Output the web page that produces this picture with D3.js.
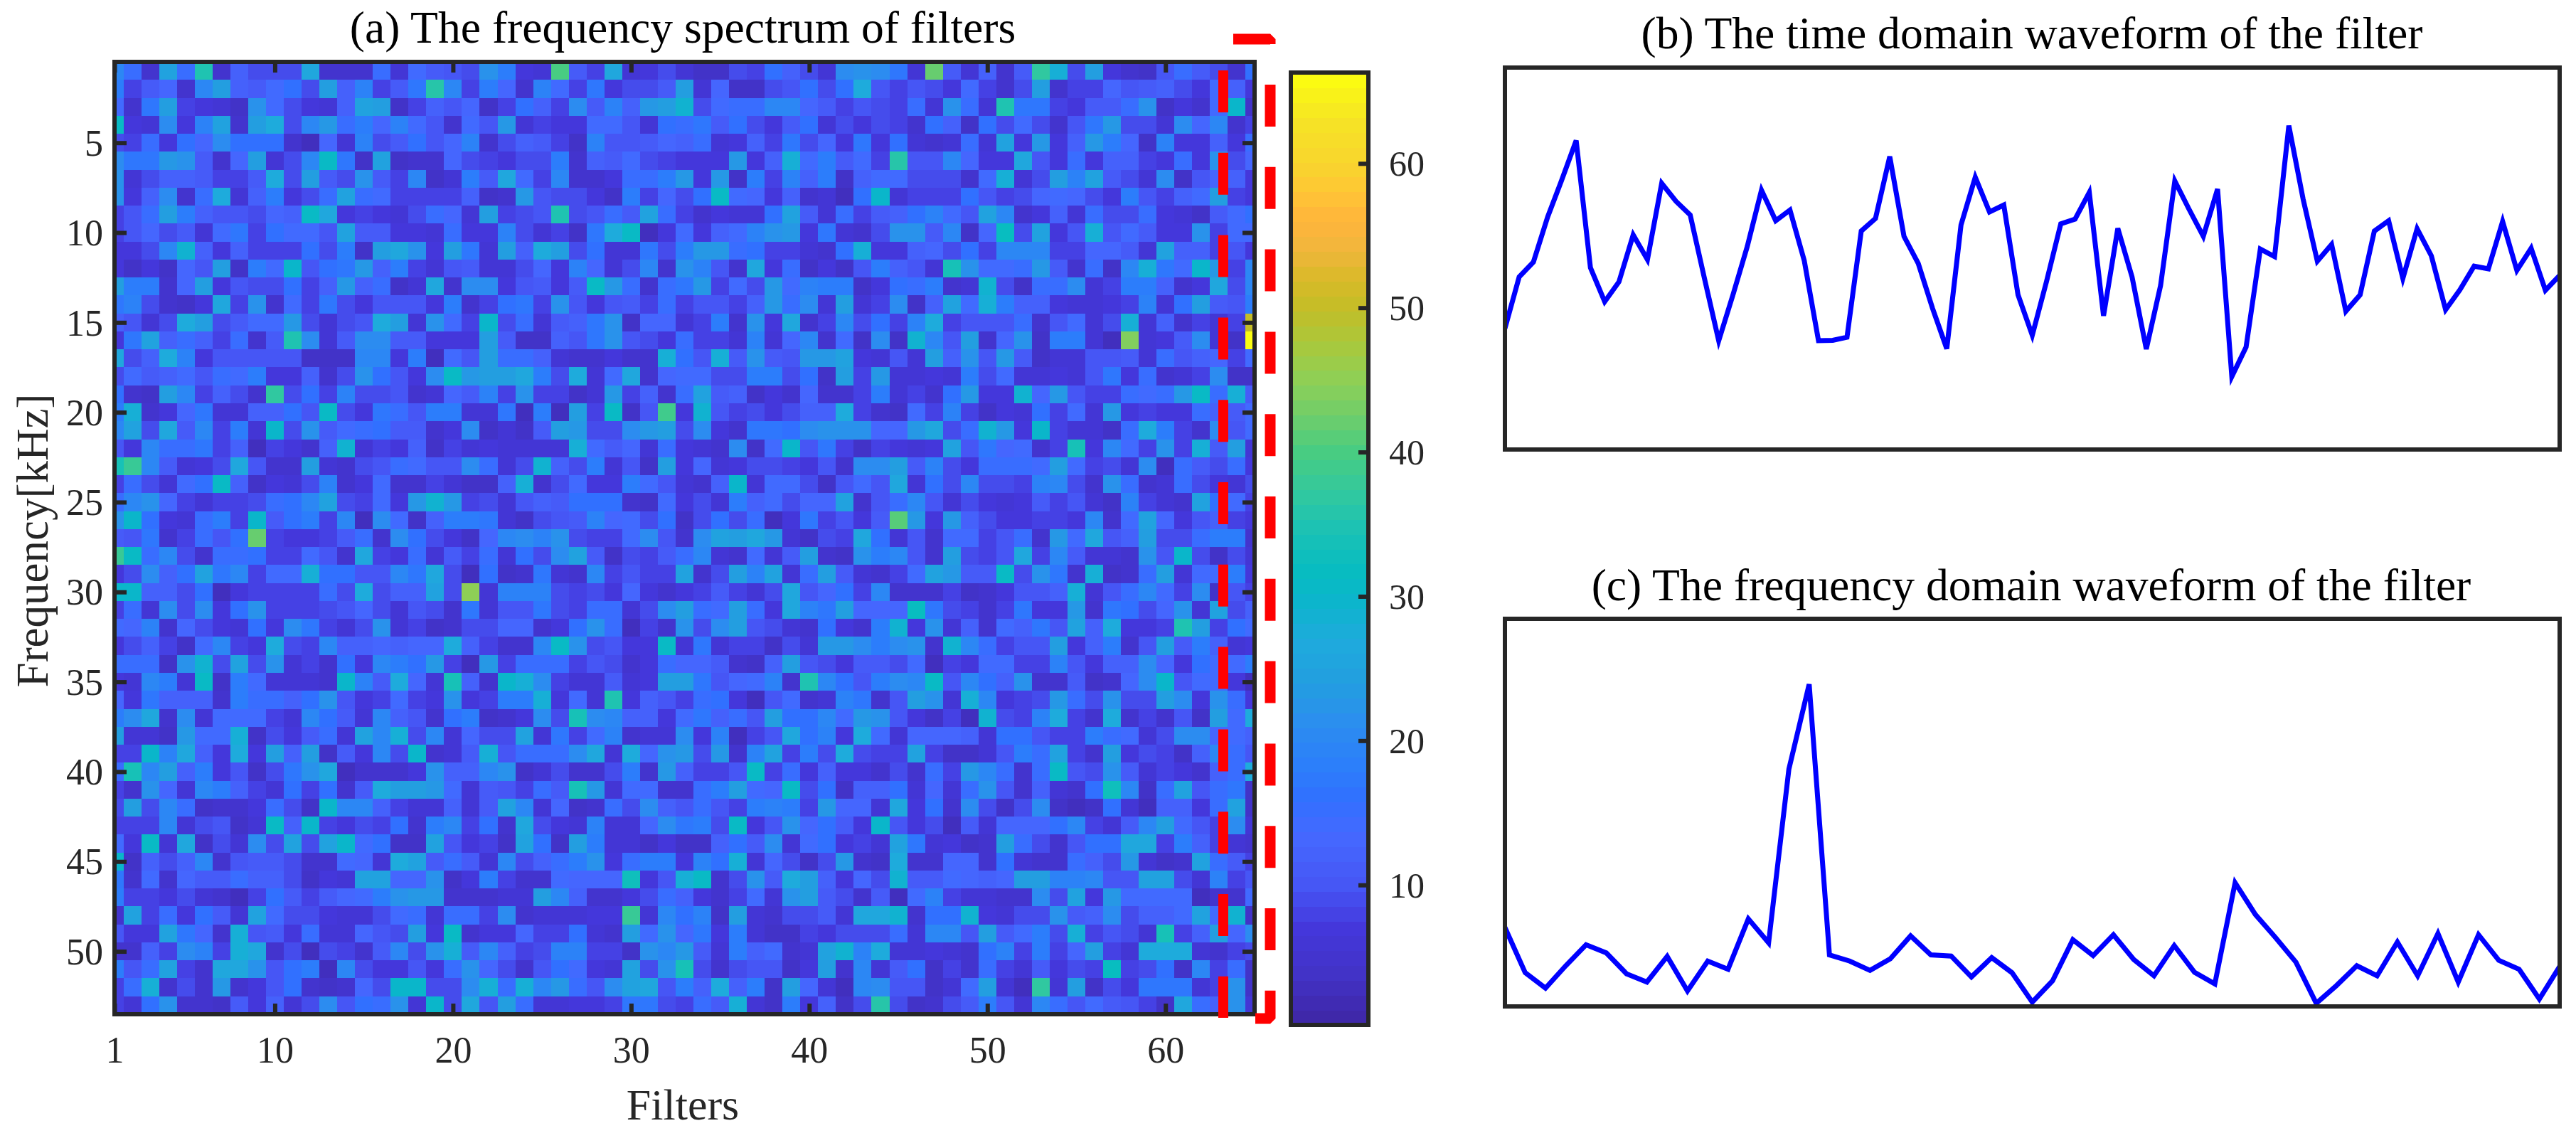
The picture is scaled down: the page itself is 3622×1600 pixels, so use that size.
<!DOCTYPE html>
<html><head><meta charset="utf-8">
<script src="https://cdn.jsdelivr.net/npm/d3@7"></script>
<style>html,body{margin:0;padding:0;background:#fff}svg{display:block}</style></head>
<body><svg id="c" width="3622" height="1600"></svg>
<script>
const W=3622,H=1600;
const titleA="(a) The frequency spectrum of filters";
const titleB="(b) The time domain waveform of the filter";
const titleC="(c) The frequency domain waveform of the filter";
const xLabel="Filters", yLabel="Frequency[kHz]";
const xTicks=[1,10,20,30,40,50,60];
const yTicks=[5,10,15,20,25,30,35,40,45,50];
const barTicks=[10,20,30,40,50,60];
const colorStops=[[0.3,"#3e26a4"],[4,"#4233c8"],[7,"#4437db"],[10,"#4656f5"],[13.5,"#4569ff"],[16,"#3170ff"],[18,"#2c7dfb"],[21,"#2c8cf0"],[24,"#239ee0"],[27,"#1eabdc"],[30,"#0ab6ca"],[32,"#08bdc0"],[34.7,"#1cc2b4"],[37,"#30c8a0"],[40,"#48cc82"],[43,"#76ce66"],[45,"#8ecf56"],[47.5,"#a9c83c"],[50,"#c4bd27"],[52,"#d9ba28"],[54,"#f0b63c"],[56,"#ffb43c"],[58,"#ffc535"],[60,"#f8d52e"],[63,"#f6e425"],[66.3,"#fcff0e"]];
const spectrum=[
[20,15,5,25,15,35,5,12,9,9,9,26,5,5,5,15,6,14,11,10,9,22,18,7,6,40,11,8,26,6,7,9,6,4,4,9,8,16,12,9,6,21,22,21,17,6,42,11,6,12,5,11,37,28,9,24,7,5,4,10,15,11,9,5,16],
[18,8,11,13,5,20,24,12,11,14,16,9,24,12,19,8,11,17,36,20,8,18,13,5,19,14,8,17,7,9,9,11,24,6,13,4,4,9,10,16,9,16,27,10,8,10,9,7,14,8,5,9,24,5,8,8,13,10,11,12,9,7,14,12,7],
[14,5,17,24,8,7,6,4,22,14,9,7,6,12,25,24,4,8,12,10,13,4,8,16,12,8,21,11,19,12,23,24,29,9,14,15,15,20,20,13,11,8,10,9,8,15,6,22,15,6,35,17,17,8,7,11,11,15,22,4,7,5,14,30,4],
[31,7,6,21,7,19,25,5,24,27,9,20,23,15,18,13,19,14,10,5,14,10,23,6,8,7,7,14,14,10,6,16,15,17,11,16,9,7,11,16,6,9,7,9,8,5,16,12,4,16,9,14,9,5,10,17,23,9,9,6,21,13,20,5,8],
[9,8,15,7,16,13,21,16,16,16,5,3,13,6,19,9,11,16,10,13,19,5,9,12,11,8,4,19,10,10,11,13,12,15,6,7,12,8,17,9,13,7,17,7,16,6,5,6,15,6,25,7,23,7,12,23,18,13,4,19,7,7,12,7,15],
[21,17,17,23,22,11,5,13,24,6,9,20,31,17,4,25,4,5,5,13,9,8,7,9,9,18,5,12,11,14,9,8,7,7,7,23,7,12,28,14,18,11,14,8,36,10,10,20,13,7,7,26,10,7,15,7,12,12,8,7,15,7,22,9,13],
[22,6,9,12,12,11,8,8,11,27,9,24,11,9,22,11,8,20,4,6,18,11,26,14,8,20,5,5,7,15,15,18,23,7,23,4,18,8,19,12,18,4,12,14,14,9,9,9,5,14,28,6,9,24,19,25,11,9,6,21,4,10,13,12,7],
[22,7,12,21,5,15,27,6,12,18,7,9,15,25,15,14,8,8,8,8,12,4,5,23,10,9,9,7,4,18,8,13,9,16,31,14,13,7,12,5,6,3,16,30,6,8,8,8,16,10,8,9,13,14,13,9,7,18,10,8,12,14,24,8,7],
[8,10,15,24,18,12,10,10,9,13,12,31,26,7,8,7,6,9,15,13,6,24,8,9,10,35,9,10,15,11,25,15,8,5,7,6,6,16,25,11,6,15,8,11,12,16,19,14,10,25,20,5,7,12,6,15,9,9,15,7,6,4,11,14,16],
[8,10,13,9,11,6,14,17,8,16,14,14,10,25,11,11,7,7,6,15,7,7,19,9,6,8,4,17,27,31,3,7,14,7,12,14,19,22,23,7,17,6,5,9,22,22,11,20,4,13,32,9,25,7,10,28,10,14,11,7,7,22,8,14,14],
[7,7,9,20,29,12,7,12,8,8,8,16,9,18,4,24,26,22,7,24,17,6,24,12,27,24,9,16,6,6,17,9,18,23,23,15,16,8,8,6,5,16,28,7,7,12,13,9,16,8,20,20,20,8,8,13,13,11,6,25,12,12,8,10,7],
[7,4,7,4,13,10,24,4,18,14,30,10,16,17,23,12,18,8,6,10,11,6,6,9,13,7,19,13,6,9,20,5,22,19,10,5,26,7,15,4,7,4,10,18,12,10,6,34,22,14,14,15,23,11,5,15,4,20,28,17,14,30,23,8,20],
[24,18,18,5,13,24,7,10,9,9,16,8,12,23,12,15,4,6,26,5,21,21,7,10,11,7,11,31,23,15,5,15,17,23,8,14,9,23,14,19,18,18,4,7,16,15,18,5,6,29,9,4,15,15,21,6,8,18,18,12,5,7,26,9,20],
[17,19,9,5,4,7,26,8,22,5,14,8,17,9,7,10,10,10,7,18,5,8,16,17,8,22,10,7,10,11,8,15,8,10,10,8,12,23,15,21,6,24,6,8,21,4,12,25,14,28,18,12,12,7,6,6,7,8,19,6,16,24,11,10,18],
[12,10,6,9,27,24,9,11,14,14,23,9,6,9,10,27,24,6,22,14,8,30,9,15,6,11,12,17,22,4,13,13,6,8,18,5,22,7,26,5,8,20,9,16,8,19,27,8,10,10,10,15,5,10,14,6,9,28,6,12,5,8,6,8,50],
[7,17,25,12,15,12,8,15,5,11,35,21,6,11,21,21,11,11,7,7,7,24,11,4,4,12,10,17,22,10,9,7,15,8,8,6,19,6,13,20,5,14,4,21,4,29,20,10,24,5,13,22,4,18,18,6,3,44,6,7,11,21,6,4,66],
[26,9,12,27,19,7,10,10,10,10,10,4,4,4,20,20,7,18,3,14,10,24,15,15,12,6,5,5,7,5,5,28,16,10,28,11,22,11,10,23,23,25,7,6,10,6,24,12,22,10,23,11,4,6,6,10,10,11,6,15,10,12,13,8,14],
[9,14,11,12,14,10,15,14,18,7,7,12,5,9,22,16,10,7,21,31,23,24,24,26,18,9,27,6,14,26,5,13,14,14,9,9,18,18,9,16,4,24,8,23,6,6,7,6,18,9,14,6,6,7,6,10,17,7,15,5,6,8,21,4,4],
[16,5,4,24,20,8,12,9,5,37,9,16,8,19,9,9,10,5,6,13,11,19,8,22,8,8,4,6,23,8,12,5,15,25,11,12,4,7,5,13,5,5,8,18,6,8,5,16,23,7,7,29,13,23,10,8,8,15,14,15,23,31,15,28,11],
[18,28,5,7,13,17,6,6,12,12,16,10,31,9,7,17,15,10,18,18,6,6,17,3,18,3,24,8,31,4,10,39,7,29,10,8,9,7,9,12,12,27,8,5,4,14,8,19,8,4,7,6,16,8,14,6,23,7,8,7,7,15,12,11,14],
[20,25,9,26,11,20,8,18,6,30,9,22,11,14,15,16,11,11,5,7,21,4,6,4,11,24,23,9,9,21,23,24,9,21,7,5,17,17,16,21,22,22,22,13,13,23,26,9,15,29,23,7,30,8,6,6,4,15,27,18,8,5,21,10,14],
[10,7,20,15,15,17,8,12,3,8,7,5,12,29,6,8,7,12,4,8,6,7,6,6,6,6,28,14,11,13,6,15,7,6,5,21,4,14,30,10,17,8,4,8,7,6,7,25,10,17,13,14,5,8,34,7,20,14,8,22,8,28,11,24,6],
[34,38,20,11,6,7,9,26,10,5,5,24,6,5,9,10,15,14,10,10,21,15,6,9,29,12,9,18,6,10,4,24,7,13,6,7,9,9,8,7,10,5,21,21,24,11,19,9,7,15,15,15,14,24,14,8,9,6,21,3,15,11,9,15,7],
[8,15,9,6,14,16,31,12,4,7,6,9,19,5,7,14,5,5,8,6,4,4,12,28,5,9,14,7,7,18,14,10,6,5,12,30,6,14,14,9,4,10,14,10,26,6,16,9,20,9,9,8,19,20,9,5,22,15,5,6,15,9,7,6,9],
[15,20,22,13,8,6,8,8,9,15,16,20,25,9,8,14,7,23,29,23,8,9,6,10,12,11,16,16,16,5,4,14,7,9,6,18,12,14,9,13,13,25,5,10,15,20,10,6,9,7,6,7,11,8,10,6,4,19,8,6,5,25,16,14,8],
[22,30,16,7,6,15,18,8,30,11,16,18,8,20,3,21,14,4,12,18,18,17,6,4,9,10,11,19,13,14,9,16,4,9,16,9,15,3,7,17,8,10,7,11,41,23,7,23,12,9,7,7,8,8,7,20,5,14,25,13,7,10,12,8,7],
[11,10,17,5,8,15,10,16,42,8,7,7,8,11,15,5,21,16,9,7,4,13,20,21,19,22,9,8,8,14,21,10,5,21,25,24,26,23,6,4,9,8,26,16,6,10,5,14,14,8,10,15,5,23,14,26,10,12,24,9,9,15,18,18,5],
[38,31,15,20,9,5,15,15,16,8,8,14,10,5,26,8,7,15,6,11,8,15,6,16,9,21,25,11,4,9,8,11,15,20,6,5,14,6,11,24,5,4,22,18,20,10,5,24,9,8,10,26,8,20,11,6,6,5,22,10,30,9,4,9,6],
[7,9,21,12,16,25,17,20,8,14,14,28,16,16,10,10,20,17,26,9,3,16,4,5,17,6,5,20,8,10,8,8,25,5,9,24,19,25,6,15,24,11,6,5,8,14,25,23,11,11,31,9,22,17,5,28,4,5,15,24,6,14,14,18,7],
[30,30,12,12,9,16,3,7,8,8,8,8,15,9,27,9,12,12,25,9,45,6,19,19,19,9,8,9,7,13,7,5,7,8,11,8,6,9,26,10,13,16,8,20,5,5,5,8,4,5,7,10,10,12,28,6,10,15,20,14,8,21,4,10,8],
[8,15,6,21,9,21,7,16,22,8,8,8,9,10,13,9,6,10,9,5,17,6,10,10,17,9,8,15,15,6,9,21,24,15,14,24,15,7,26,19,17,24,13,13,13,32,17,9,8,5,8,17,7,7,23,5,17,16,9,13,22,6,25,9,12],
[14,13,19,5,13,9,7,6,16,7,21,17,8,6,9,22,6,8,4,5,9,9,13,13,5,7,16,22,15,3,8,5,22,9,21,24,10,9,6,5,16,7,5,18,29,7,22,6,12,5,14,12,17,10,25,12,27,7,7,8,35,24,8,16,14],
[7,9,12,8,4,14,20,8,7,27,9,8,20,12,12,13,12,13,13,27,12,8,5,5,20,31,22,9,10,7,7,31,6,17,6,8,8,4,9,6,23,23,21,18,21,22,5,29,20,15,8,10,10,24,7,12,18,5,10,24,11,18,12,6,7],
[15,15,15,4,22,29,9,25,9,22,6,8,5,16,7,20,18,16,23,8,3,23,8,15,15,15,8,10,9,5,7,15,13,13,11,5,4,12,24,10,9,7,11,11,9,14,3,8,7,14,14,8,8,19,10,7,12,12,21,13,7,16,14,14,18],
[7,6,20,18,6,31,4,18,14,6,6,6,5,30,19,11,27,13,6,34,12,5,30,28,21,8,6,6,11,6,7,24,24,17,10,13,14,19,5,35,20,16,10,18,21,20,31,10,20,16,12,22,5,5,11,4,5,13,21,30,10,14,14,7,3],
[13,7,17,12,12,12,5,18,15,15,12,16,22,10,7,8,14,8,7,22,7,8,18,18,28,7,14,6,35,7,12,10,8,15,16,7,3,10,14,5,6,19,17,5,10,24,22,6,28,20,7,8,9,23,15,9,22,9,9,24,21,7,22,15,7],
[18,21,26,5,21,6,14,14,14,8,6,20,16,11,6,20,12,10,5,16,18,4,5,7,21,9,34,21,20,12,12,7,14,17,12,15,10,24,16,16,20,14,23,22,10,7,4,8,3,29,9,8,19,27,8,5,27,5,8,5,10,4,24,14,27],
[24,6,6,4,23,14,14,28,4,9,7,11,15,6,25,20,28,9,20,6,13,9,9,25,6,17,8,14,19,5,6,6,21,7,19,3,8,10,26,16,19,7,27,14,6,13,13,13,12,6,16,16,10,8,8,18,15,14,6,9,21,21,13,14,12],
[8,8,30,19,26,12,7,27,7,24,12,24,4,11,7,20,9,30,5,6,11,28,10,15,15,15,21,26,6,27,13,22,23,9,23,5,19,25,8,18,9,27,9,8,8,25,8,4,4,6,10,18,15,25,8,5,24,7,9,8,4,12,20,15,10],
[15,34,20,24,12,18,7,10,4,9,17,22,26,3,5,5,5,7,22,12,12,20,22,4,6,9,5,5,9,18,5,23,12,8,8,10,31,8,15,7,12,7,7,5,9,5,15,8,23,20,15,5,15,31,10,9,22,11,6,8,7,5,12,15,27],
[8,5,22,13,6,20,18,12,8,6,16,8,16,5,11,27,24,24,23,14,6,11,10,8,15,11,34,23,6,14,14,5,5,15,18,24,14,13,31,9,16,4,12,12,16,6,13,6,15,22,10,5,12,6,5,16,33,20,4,15,25,10,15,17,4],
[9,24,9,20,15,4,5,5,7,15,9,4,30,20,20,12,8,6,6,12,6,11,25,20,6,13,4,5,15,9,21,12,10,15,10,8,18,19,18,8,23,13,13,6,26,7,16,5,21,9,4,9,21,4,3,4,16,6,3,12,12,7,15,25,4],
[8,8,8,20,6,9,10,4,6,31,12,30,8,7,9,8,16,5,18,20,8,16,5,26,9,7,6,19,6,6,13,21,17,18,9,31,7,10,22,13,16,11,7,30,10,7,9,3,11,6,13,13,13,16,20,8,6,11,20,24,14,10,8,21,6],
[14,7,31,6,26,4,9,6,21,9,25,9,25,30,14,16,4,4,25,10,7,8,4,25,16,4,24,18,6,6,4,7,4,4,12,16,11,21,6,14,16,7,8,6,25,17,6,7,4,5,24,15,9,5,10,16,16,26,26,8,18,12,8,6,5],
[30,4,12,9,12,20,5,10,11,11,9,5,5,14,13,6,27,25,11,15,11,6,20,9,12,15,18,22,7,15,18,18,7,19,16,28,6,13,9,4,9,23,5,4,27,5,5,13,13,5,16,6,5,5,15,12,9,23,6,4,5,25,15,11,8],
[17,5,14,5,13,11,11,15,12,12,9,4,7,6,25,25,13,13,22,4,7,18,8,5,5,14,13,13,13,33,7,10,28,31,5,9,22,11,27,24,12,7,13,9,29,11,11,14,13,12,13,24,24,19,19,20,10,10,25,25,9,6,19,8,10],
[18,8,8,7,9,6,5,3,8,16,11,8,11,13,14,18,22,23,23,5,5,5,6,6,24,20,12,5,5,7,9,15,12,7,5,8,14,6,22,24,11,9,5,11,3,14,19,8,6,6,5,5,21,9,25,7,23,14,14,14,14,3,5,5,14],
[5,25,8,15,7,16,11,6,25,14,9,9,7,6,6,9,14,15,6,15,15,8,21,5,6,6,6,7,7,38,6,20,16,19,4,24,6,5,9,9,11,6,26,26,29,5,16,16,29,7,6,9,9,22,11,12,21,9,12,12,14,25,14,29,4],
[10,7,7,25,17,13,5,28,10,11,7,15,6,6,13,10,9,24,7,31,5,7,7,13,8,8,16,6,5,24,14,22,13,17,7,18,6,4,4,8,7,9,9,9,15,6,20,20,10,24,11,14,18,9,28,8,10,9,6,34,8,12,24,13,21],
[5,5,12,8,21,19,8,28,26,5,9,3,9,8,5,11,20,9,22,28,11,20,12,8,9,19,19,8,8,4,22,20,23,11,6,18,12,14,5,6,25,29,19,27,6,6,7,6,5,16,19,8,18,8,13,24,8,6,27,27,27,6,5,8,9],
[18,10,15,25,8,5,26,26,22,10,16,18,3,20,9,7,7,10,7,15,22,13,9,5,10,16,14,7,6,25,9,22,34,9,5,9,10,10,4,7,24,5,20,6,11,16,4,8,5,15,8,6,11,7,9,8,32,8,9,16,4,20,8,15,4],
[8,15,28,5,9,5,23,5,7,10,16,5,4,5,13,9,30,30,9,9,21,28,15,28,20,23,15,10,21,25,26,10,18,12,27,12,18,4,24,13,6,3,20,21,10,10,4,6,14,24,6,3,37,6,24,4,9,7,17,17,17,6,8,22,4],
[8,6,16,22,5,5,4,11,7,12,6,9,21,10,16,15,22,6,30,9,26,10,24,15,6,6,7,7,8,17,17,9,8,15,11,28,6,4,18,7,12,4,9,36,9,4,5,9,11,18,10,6,20,15,10,14,11,10,8,4,26,15,12,22,6]
];
const timeWave=[31.7,45.2,49.1,60.9,70.7,80.9,47.6,38.7,43.9,56.2,49.7,69.7,65.0,61.4,44.8,28.5,40.5,53.1,67.9,59.9,62.7,49.5,28.5,28.6,29.4,57.2,60.5,76.7,55.8,48.7,37.0,26.4,58.8,71.3,62.2,64.0,40.5,29.9,44.0,59.1,60.3,67.3,35.0,57.9,45.2,26.3,42.9,70.3,62.9,55.8,68.2,19.1,26.8,52.5,50.5,84.8,65.6,49.3,53.7,36.2,40.5,57.2,59.9,44.8,57.8,50.7,36.6,41.8,48.0,47.3,59.7,46.9,52.7,41.7,45.6];
const freqWave=[20.4,8.7,4.7,10.5,15.9,13.8,8.4,6.3,12.9,4.0,11.7,9.6,22.6,16.4,61.2,83.1,13.3,11.7,9.3,12.3,18.2,13.3,13.0,7.6,12.6,8.7,1.1,6.6,17.2,13.1,18.5,12.1,7.9,15.7,8.8,5.8,31.9,23.7,17.7,11.4,0.8,5.4,10.5,7.9,16.6,7.9,18.8,6.3,18.5,11.9,9.6,1.9,10.3];

const svg=d3.select("#c");
const INK="#262626", SERIF="'Liberation Serif','Times New Roman',serif";
const color=d3.scaleLinear().domain(colorStops.map(d=>d[0])).range(colorStops.map(d=>d[1])).clamp(true);

// panel a
const A={l:161,r:1764,t:87,b:1426};
const x=d3.scaleLinear().domain([1,65]).range([A.l,A.r]);
const y=d3.scaleLinear().domain([0.5,53.5]).range([A.t,A.b]);
svg.append("defs").append("clipPath").attr("id","ca").append("rect").attr("x",A.l).attr("y",A.t).attr("width",A.r-A.l).attr("height",A.b-A.t);
const gh=svg.append("g").attr("clip-path","url(#ca)").attr("shape-rendering","crispEdges");
gh.append("rect").attr("x",A.l).attr("y",A.t).attr("width",A.r-A.l).attr("height",A.b-A.t).attr("fill","#4569ff");
spectrum.forEach((row,i)=>{
  gh.selectAll(null).data(row).join("rect")
    .attr("x",(d,j)=>x(j+0.5)).attr("y",y(i+0.5))
    .attr("width",x(2)-x(1)+0.5).attr("height",y(2)-y(1)+0.5)
    .attr("fill",d=>color(d));
});
function style(g,size){
  g.selectAll(".domain").remove();
  g.selectAll(".tick line").attr("stroke",INK).attr("stroke-width",6);
  g.selectAll(".tick text").attr("fill",INK).attr("font-family",SERIF).attr("font-size",size);
}
const gx=svg.append("g").attr("transform",`translate(0,${A.b})`).call(d3.axisBottom(x).tickValues(xTicks).tickSize(-15).tickPadding(0));
style(gx,52); gx.selectAll(".tick text").attr("dy",0).attr("y",68);
svg.append("g").attr("transform",`translate(0,${A.t})`).call(d3.axisTop(x).tickValues(xTicks).tickSize(-15).tickFormat("")).call(g=>style(g,0));
const gy=svg.append("g").attr("transform",`translate(${A.l},0)`).call(d3.axisLeft(y).tickValues(yTicks).tickSize(-17).tickPadding(0));
style(gy,52); gy.selectAll(".tick text").attr("x",-16).attr("dy","0.34em");
svg.append("g").attr("transform",`translate(${A.r},0)`).call(d3.axisRight(y).tickValues(yTicks).tickSize(-17).tickFormat("")).call(g=>style(g,0));
function frame(b,w){svg.append("rect").attr("x",b.l).attr("y",b.t).attr("width",b.r-b.l).attr("height",b.b-b.t).attr("fill","none").attr("stroke",INK).attr("stroke-width",w);}
frame(A,6);
function txt(s,px,py,size,fill){return svg.append("text").text(s).attr("x",px).attr("y",py).attr("font-family",SERIF).attr("font-size",size).attr("text-anchor","middle").attr("fill",fill);}
txt(titleA,960,60,63.6,"#000");
txt(xLabel,960,1574,62,INK);
svg.append("text").text(yLabel).attr("transform","translate(67,760) rotate(-90)").attr("font-family",SERIF).attr("font-size",63).attr("text-anchor","middle").attr("fill",INK);

// red dashed outline
const red=svg.append("g").attr("fill","none").attr("stroke","#ff0000");
red.append("line").attr("x1",1720).attr("x2",1720).attr("y1",99).attr("y2",1431).attr("stroke-width",14).attr("stroke-dasharray","59 56.8");
red.append("line").attr("x1",1786).attr("x2",1786).attr("y1",119).attr("y2",1393).attr("stroke-width",15).attr("stroke-dasharray","59 56.8");
red.append("path").attr("d","M1734,55 L1786,55 L1786,62").attr("stroke-width",15).attr("stroke-linejoin","bevel");
red.append("path").attr("d","M1786,1393 L1786,1432 L1765,1432").attr("stroke-width",15).attr("stroke-linejoin","bevel");

// colorbar
const B={l:1815,r:1924,t:102,b:1441};
const cy=d3.scaleLinear().domain([0.3,66.3]).range([B.b,B.t]);
svg.append("g").attr("shape-rendering","crispEdges").selectAll("rect").data(d3.range(0,64)).join("rect")
  .attr("x",B.l).attr("width",B.r-B.l)
  .attr("y",i=>cy(0.3+(i+1)*66/64)).attr("height",cy(0)-cy(66/64)+1)
  .attr("fill",i=>color(0.3+(i+0.5)*66/64));
const gb=svg.append("g").attr("transform",`translate(${B.r},0)`).call(d3.axisRight(cy).tickValues(barTicks).tickSize(-14).tickPadding(0));
style(gb,50); gb.selectAll(".tick text").attr("x",79).attr("text-anchor","end").attr("dy","0.34em");
frame(B,6);

// line panels
function wave(vals,box){
  const sx=d3.scaleLinear().domain([0,vals.length-1]).range([box.l,box.r]);
  const sy=d3.scaleLinear().domain([0,100]).range([box.b,box.t]);
  const id="clip"+box.t;
  svg.select("defs").append("clipPath").attr("id",id).append("rect").attr("x",box.l).attr("y",box.t).attr("width",box.r-box.l).attr("height",box.b-box.t);
  svg.append("path").attr("clip-path",`url(#${id})`).datum(vals).attr("fill","none").attr("stroke","#0000ff").attr("stroke-width",7).attr("stroke-linejoin","miter")
    .attr("d",d3.line().x((d,i)=>sx(i)).y(d=>sy(d)));
  frame(box,6);
}
wave(timeWave,{l:2116,r:3599,t:95,b:632});
wave(freqWave,{l:2116,r:3599,t:870,b:1415});
txt(titleB,2857,68,63.6,"#000");
txt(titleC,2856,844,63.6,"#000");
</script></body></html>
